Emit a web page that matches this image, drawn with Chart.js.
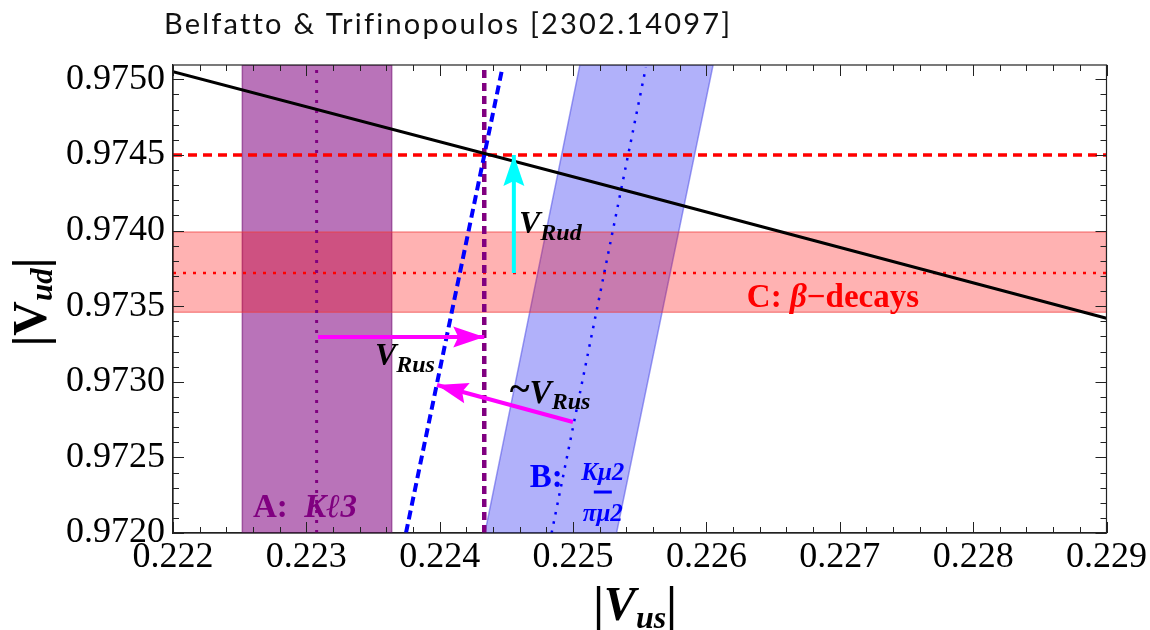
<!DOCTYPE html>
<html>
<head>
<meta charset="utf-8">
<script src="https://cdn.jsdelivr.net/npm/chart.js@4.4.1/dist/chart.umd.min.js"></script>
<style>
  html, body { margin: 0; padding: 0; background: #fff; }
</style>
</head>
<body>
<canvas id="ckm-chart" width="1150" height="630"></canvas>
<script>
// axes
var xTicks = [0.222, 0.223, 0.224, 0.225, 0.226, 0.227, 0.228, 0.229];
var xTickLabels = ['0.222', '0.223', '0.224', '0.225', '0.226', '0.227', '0.228', '0.229'];
var yTicks = [0.9720, 0.9725, 0.9730, 0.9735, 0.9740, 0.9745, 0.9750];
var yTickLabels = ['0.9720', '0.9725', '0.9730', '0.9735', '0.9740', '0.9745', '0.9750'];
var xMin = 0.222, xMax = 0.229, yMin = 0.9720, yMax = 0.975095;

// unitarity line (black)
var unitX = [0.222, 0.2255, 0.229];
var unitY = [0.97505, 0.97424, 0.97342];

// A: K l3 band (purple)
var bandAX = [0.22252, 0.22252, 0.22364, 0.22364, 0.22252];
var bandAY = [0.9720, 0.975095, 0.975095, 0.9720, 0.9720];
var centerAX = [0.223077, 0.223077];
var centerAY = [0.9720, 0.975095];

// B: K mu2 / pi mu2 band (blue)
var bandBX = [0.224339, 0.225051, 0.226050, 0.225326, 0.224339];
var bandBY = [0.9720, 0.975095, 0.975095, 0.9720, 0.9720];
var centerBX = [0.224839, 0.225546];
var centerBY = [0.9720, 0.97508];

// C: beta decays band (red)
var bandCX = [0.222, 0.229, 0.229, 0.222, 0.222];
var bandCY = [0.97399, 0.97399, 0.97346, 0.97346, 0.97399];
var centerCX = [0.222, 0.229];
var centerCY = [0.97372, 0.97372];

// dashed lines
var vudLineX = [0.222, 0.229];
var vudLineY = [0.9745, 0.9745];
var vusLineX = [0.224334, 0.224334];
var vusLineY = [0.9720, 0.975095];
var blueDashX = [0.223747, 0.224466];
var blueDashY = [0.9720, 0.97506];

// arrows [from, to]
var arrowRudX = [0.224556, 0.224556];
var arrowRudY = [0.97372, 0.9745];
var arrowRusX = [0.223087, 0.224334];
var arrowRusY = [0.973296, 0.973296];
var arrowRus2X = [0.224999, 0.22398];
var arrowRus2Y = [0.972734, 0.972979];

function pts(xs, ys) {
    return xs.map(function (x, i) { return {x: x, y: ys[i]}; });
}

function line(xs, ys, color, width, dash, order) {
    return {
        data: pts(xs, ys),
        showLine: true,
        borderColor: color,
        borderWidth: width,
        borderDash: dash || [],
        pointRadius: 0,
        fill: false,
        order: order
    };
}

function band(xs, ys, fillColor, edgeColor, order) {
    return {
        data: pts(xs, ys),
        showLine: true,
        borderColor: edgeColor,
        borderWidth: 1.5,
        backgroundColor: fillColor,
        pointRadius: 0,
        fill: 'shape',
        order: order
    };
}

var SERIF = '"Liberation Serif", "DejaVu Serif", serif';
function B(s) { return 'bold ' + s + 'px ' + SERIF; }
function BI(s) { return 'italic bold ' + s + 'px ' + SERIF; }

var arrows = [
    {xs: arrowRudX, ys: arrowRudY, color: '#00ffff'},
    {xs: arrowRusX, ys: arrowRusY, color: '#ff00ff'},
    {xs: arrowRus2X, ys: arrowRus2Y, color: '#ff00ff'}
];

var labels = [
    {x: 0.224594, y: 0.973983, color: '#000', parts: [{t: 'V', font: BI(32)}, {t: 'Rud', font: BI(24), dy: 7}]},
    {x: 0.223514, y: 0.973110, color: '#000', parts: [{t: 'V', font: BI(32)}, {t: 'Rus', font: BI(24), dy: 7}]},
    {x: 0.224526, y: 0.972859, color: '#000', parts: [{t: '~', font: B(38), dy: -2}, {t: 'V', font: BI(33)}, {t: 'Rus', font: BI(24), dy: 6}]},
    {x: 0.226303, y: 0.973494, color: '#ff0000', parts: [{t: 'C: ', font: B(33)}, {t: 'β', font: BI(33)}, {t: '−decays', font: B(33)}]},
    {x: 0.222600, y: 0.972105, color: '#800080', parts: [{t: 'A:  ', font: B(33)}, {t: 'Kℓ3', font: BI(33)}]},
    {x: 0.224676, y: 0.972304, color: '#0000ff', parts: [{t: 'B:', font: B(33)}]}
];
var fraction = {x: 0.225223, y: 0.972271, color: '#0000ff', num: 'Kμ2', den: 'πμ2'};

function drawParts(ctx, parts, x, y) {
    var cx = x;
    parts.forEach(function (p) {
        ctx.font = p.font;
        ctx.fillText(p.t, cx, y + (p.dy || 0));
        cx += ctx.measureText(p.t).width;
    });
}
function partsWidth(ctx, parts) {
    var w = 0;
    parts.forEach(function (p) { ctx.font = p.font; w += ctx.measureText(p.t).width; });
    return w;
}

var framePlugin = {
    id: 'frame',
    afterDatasetsDraw: function (chart) {
        var ctx = chart.ctx, a = chart.chartArea;
        var xs = chart.scales.x, ys = chart.scales.y;
        ctx.save();

        // arrow heads
        arrows.forEach(function (ar) {
            var x0 = xs.getPixelForValue(ar.xs[0]), y0 = ys.getPixelForValue(ar.ys[0]);
            var x1 = xs.getPixelForValue(ar.xs[1]), y1 = ys.getPixelForValue(ar.ys[1]);
            var ang = Math.atan2(y1 - y0, x1 - x0);
            var L = 31, W = 10.5, N = 5;
            ctx.save();
            ctx.translate(x1, y1);
            ctx.rotate(ang);
            ctx.fillStyle = ar.color;
            ctx.beginPath();
            ctx.moveTo(0, 0);
            ctx.lineTo(-L, -W);
            ctx.lineTo(-L + N, 0);
            ctx.lineTo(-L, W);
            ctx.closePath();
            ctx.fill();
            ctx.restore();
        });

        // annotations
        ctx.textBaseline = 'alphabetic';
        ctx.textAlign = 'left';
        labels.forEach(function (l) {
            ctx.fillStyle = l.color;
            drawParts(ctx, l.parts, xs.getPixelForValue(l.x), ys.getPixelForValue(l.y));
        });
        var fx = xs.getPixelForValue(fraction.x), fy = ys.getPixelForValue(fraction.y);
        ctx.fillStyle = fraction.color;
        ctx.textAlign = 'center';
        ctx.font = BI(25);
        ctx.fillText(fraction.num, fx, fy - 12);
        ctx.fillText(fraction.den, fx, fy + 29);
        ctx.fillRect(fx - 9, fy - 1.5, 18, 3);
        ctx.textAlign = 'left';

        // frame and inward ticks
        ctx.strokeStyle = '#222';
        ctx.lineWidth = 1.2;
        ctx.strokeRect(a.left, a.top, a.right - a.left, a.bottom - a.top);
        ctx.lineWidth = 1;
        ctx.beginPath();
        for (var i = 0; i <= 35; i++) {
            var v = xMin + i * 0.0002;
            var px = Math.round(xs.getPixelForValue(v)) + 0.5;
            var len = (i % 5 === 0) ? 11 : 6;
            ctx.moveTo(px, a.bottom); ctx.lineTo(px, a.bottom - len);
            ctx.moveTo(px, a.top); ctx.lineTo(px, a.top + len);
        }
        for (var j = 0; j <= 30; j++) {
            var w = yMin + j * 0.0001;
            var py = Math.round(ys.getPixelForValue(w)) + 0.5;
            var len2 = (j % 5 === 0) ? 11 : 6;
            ctx.moveTo(a.left, py); ctx.lineTo(a.left + len2, py);
            ctx.moveTo(a.right, py); ctx.lineTo(a.right - len2, py);
        }
        ctx.stroke();

        // title
        ctx.fillStyle = '#111';
        ctx.font = '400 29px Lato, "Noto Sans", sans-serif';
        ctx.letterSpacing = '2.2px';
        ctx.fillText('Belfatto & Trifinopoulos [2302.14097]', 164, 34);
        ctx.letterSpacing = '0px';

        // x axis title
        ctx.fillStyle = '#000';
        var xt = [{t: '|', font: B(48)}, {t: 'V', font: BI(48)}, {t: 'us', font: BI(32), dy: 8}, {t: '|', font: B(48)}];
        drawParts(ctx, xt, 635 - partsWidth(ctx, xt) / 2, 620);

        // y axis title
        var yt = [{t: '|', font: B(48)}, {t: 'V', font: B(48)}, {t: 'ud', font: BI(31), dy: 6}, {t: '|', font: B(48)}];
        ctx.translate(46, 302);
        ctx.rotate(-Math.PI / 2);
        drawParts(ctx, yt, -partsWidth(ctx, yt) / 2, 0);
        ctx.restore();
    }
};

var chartNode = document.getElementById('ckm-chart').getContext('2d');
var ckmChart = new Chart(chartNode, {
    type: 'scatter',
    data: {
        datasets: [
            line(arrowRudX, arrowRudY, '#00ffff', 4, [], 1),
            line(arrowRusX, arrowRusY, '#ff00ff', 4, [], 1),
            line(arrowRus2X, arrowRus2Y, '#ff00ff', 4, [], 1),
            line(unitX, unitY, '#000000', 3, [], 2),
            line(vudLineX, vudLineY, '#ff0000', 3.5, [9, 6], 3),
            line(blueDashX, blueDashY, '#0000ff', 4, [9, 5], 3),
            line(vusLineX, vusLineY, '#800080', 4.5, [8, 5], 3),
            line(centerAX, centerAY, '#800080', 3, [3, 7], 4),
            line(centerBX, centerBY, '#0000ff', 2.5, [2.5, 7], 4),
            line(centerCX, centerCY, '#ff0000', 2.5, [3, 7], 4),
            band(bandCX, bandCY, 'rgba(255, 0, 0, 0.3)', 'rgba(240, 60, 60, 0.5)', 5),
            band(bandBX, bandBY, 'rgba(100, 100, 245, 0.5)', 'rgba(80, 80, 230, 0.55)', 6),
            band(bandAX, bandAY, 'rgba(128, 0, 128, 0.55)', 'rgba(120, 20, 120, 0.6)', 7)
        ]
    },
    options: {
        responsive: false,
        animation: false,
        layout: {
            padding: {top: 65, right: 43, bottom: 0, left: 0}
        },
        plugins: {
            legend: {display: false},
            title: {display: false},
            tooltip: {enabled: false}
        },
        scales: {
            x: {
                type: 'linear',
                min: xMin,
                max: xMax,
                afterBuildTicks: function (s) { s.ticks = xTicks.map(function (v) { return {value: v}; }); },
                afterFit: function (s) { s.height = 97; },
                grid: {display: true, drawOnChartArea: false, drawTicks: false},
                border: {display: true, color: '#222', width: 1.2},
                ticks: {
                    font: {family: SERIF, size: 36},
                    color: '#000',
                    padding: 3,
                    maxRotation: 0,
                    autoSkip: false,
                    callback: function (v, i) { return xTickLabels[i]; }
                }
            },
            y: {
                type: 'linear',
                min: yMin,
                max: yMax,
                afterBuildTicks: function (s) { s.ticks = yTicks.map(function (v) { return {value: v}; }); },
                afterFit: function (s) { s.width = 173; },
                grid: {display: true, drawOnChartArea: false, drawTicks: false},
                border: {display: true, color: '#222', width: 1.2},
                ticks: {
                    font: {family: SERIF, size: 36},
                    color: '#000',
                    padding: 8,
                    autoSkip: false,
                    callback: function (v, i) { return yTickLabels[i]; }
                }
            }
        }
    },
    plugins: [framePlugin]
});
</script>
</body>
</html>
